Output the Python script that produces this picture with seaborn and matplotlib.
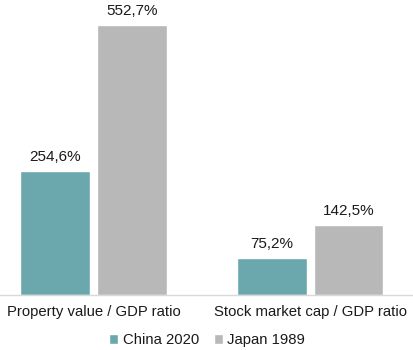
import pandas as pd
import numpy as np
import seaborn as sns
import matplotlib.pyplot as plt

categories = ['Property value / GDP ratio', 'Stock market cap / GDP ratio']
series = ['China 2020', 'Japan 1989']
china_2020 = [254.6, 75.2]
japan_1989 = [552.7, 142.5]
colors = ['#6aa8ad', '#b8b8b8']

df = pd.DataFrame({
    'Category': categories * 2,
    'Series': [series[0]] * 2 + [series[1]] * 2,
    'Value': china_2020 + japan_1989,
})

sns.set_theme(style='white')
plt.rcParams['font.family'] = ['Liberation Sans', 'DejaVu Sans']

fig = plt.figure(figsize=(4.14, 3.5), dpi=100)
ax = fig.add_axes([0, 0.157, 1, 0.843])
sns.barplot(data=df, x='Category', y='Value', hue='Series', palette=colors,
            width=0.71, gap=0.09, saturation=1, ax=ax)

for c in ax.containers:
    ax.bar_label(c, labels=[f'{v:.1f}%'.replace('.', ',') for v in c.datavalues],
                 padding=5, fontsize=11, color='#1a1a1a')

ax.set_xlim(-0.432, 1.48)
ax.set_ylim(0, 604)
ax.set_xlabel('')
ax.set_ylabel('')
ax.set_yticks([])
for s in ['top', 'right', 'left']:
    ax.spines[s].set_visible(False)
ax.spines['bottom'].set_color('#d9d9d9')
ax.spines['bottom'].set_linewidth(1)
ax.tick_params(axis='x', which='major', length=0, pad=7, labelsize=10.7, labelcolor='#1a1a1a')
ax.set_xticks([0.5], minor=True)
ax.tick_params(axis='x', which='minor', length=4, color='#d9d9d9', width=1)

handles, labels = ax.get_legend_handles_labels()
ax.legend_.remove()
fig.legend(handles, labels, loc='lower center', bbox_to_anchor=(0.5, 0.0), ncol=2,
           frameon=False, fontsize=10.7, handlelength=0.6, handleheight=0.6,
           handletextpad=0.3, columnspacing=1.0, labelcolor='#1a1a1a',
           borderaxespad=0.1, borderpad=0.1)

fig.savefig('out.png', dpi=100)
